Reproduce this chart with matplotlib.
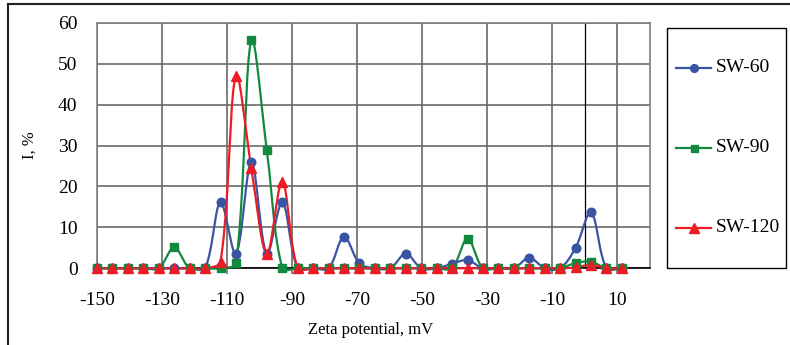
import numpy as np
import matplotlib
matplotlib.use("Agg")
import matplotlib.pyplot as plt
from matplotlib.lines import Line2D
from matplotlib.patches import Rectangle

plt.rcParams['font.family'] = ['Liberation Serif', 'DejaVu Serif']
plt.rcParams['axes.unicode_minus'] = False

# zeta potential bins, mV (35 points, ~4.75 mV apart)
zeta = [-150.0, -145.25, -140.5, -135.75, -131.0, -126.25, -121.5, -116.75,
        -112.0, -107.25, -102.5, -97.75, -93.0, -88.25, -83.5, -78.75,
        -74.0, -69.25, -64.5, -59.75, -55.0, -50.25, -45.5, -40.75,
        -36.0, -31.25, -26.5, -21.75, -17.0, -12.25, -7.5, -2.75,
        2.0, 6.75, 11.5]

sw60 = [0, 0, 0, 0, 0, 0, 0, 0, 16.1, 3.5, 25.9, 3.5, 16.1, 0, 0, 0,
        7.7, 1.2, 0, 0, 3.6, 0, 0, 1.1, 2.0, 0, 0, 0, 2.6, 0, 0, 5.0,
        13.7, 0, 0]
sw90 = [0, 0, 0, 0, 0, 5.1, 0, 0, 0, 1.2, 55.8, 28.9, 0, 0, 0, 0,
        0, 0, 0, 0, 0, 0, 0, 0, 7.2, 0, 0, 0, 0, 0, 0, 1.3,
        1.6, 0, 0]
sw120 = [0, 0, 0, 0, 0, 0, 0, 0, 1.6, 47.1, 24.4, 3.5, 21.2, 0, 0, 0,
         0, 0, 0, 0, 0, 0, 0, 0, 0, 0, 0, 0, 0, 0, 0, 0.2,
         0.9, 0, 0]

names = ['SW-60', 'SW-90', 'SW-120']
colors = ['#3a54a4', '#12893f', '#ec1c24']
markers = ['o', 's', '^']
msizes = [6.2, 5.6, 7.8]

XMIN, XMAX, YMIN, YMAX = -150, 20, 0, 60
AX_W, AX_H = 552.5, 245.6  # axes size in pixels


def smooth(x, y, n=24, f=1 / 3):
    # excel-like smoothed line: bezier segments, tangent lengths split by
    # neighbouring segment lengths measured on screen
    sx = AX_W / (XMAX - XMIN)
    sy = AX_H / (YMAX - YMIN)
    p = np.column_stack([np.asarray(x, float) * sx, np.asarray(y, float) * sy])
    p = np.vstack([p[0], p, p[-1]])
    d = np.hypot(*np.diff(p, axis=0).T)
    t = np.linspace(0, 1, n)[:, None]
    out = []
    for i in range(1, len(p) - 2):
        tan0 = p[i + 1] - p[i - 1]
        tan1 = p[i + 2] - p[i]
        w0 = d[i] / max(d[i - 1] + d[i], 1e-9)
        w1 = d[i] / max(d[i] + d[i + 1], 1e-9)
        c1 = p[i] + tan0 * f * w0
        c2 = p[i + 1] - tan1 * f * w1
        b = (1 - t) ** 3 * p[i] + 3 * (1 - t) ** 2 * t * c1 + 3 * (1 - t) * t ** 2 * c2 + t ** 3 * p[i + 1]
        out.append(b)
    b = np.vstack(out)
    return b[:, 0] / sx, b[:, 1] / sy


fig = plt.figure(figsize=(7.9, 3.45), dpi=100)
ax = fig.add_axes([97 / 790, 76.7 / 345, AX_W / 790, AX_H / 345])

series = [sw60, sw90, sw120]
for vals, c in zip(series, colors):
    lx, ly = smooth(zeta, vals)
    ax.plot(lx, ly, color=c, lw=1.6, zorder=3, clip_on=False)
for vals, c, m, ms in zip(series, colors, markers, msizes):
    ax.plot(zeta, vals, ls='none', marker=m, ms=ms, color=c, mec=c, zorder=4, clip_on=False)

ax.set_xlim(XMIN, XMAX)
ax.set_ylim(YMIN, YMAX)
ax.set_xticks(np.arange(-150, 11, 20))
ax.set_yticks(np.arange(0, 61, 10))
ax.grid(True, color='#6a6a6a', lw=1.2, zorder=1)
ax.set_axisbelow(True)
ax.axvline(0, color='black', lw=0.9, zorder=2)
for s in ['left', 'right', 'top']:
    ax.spines[s].set_color('#808080')
    ax.spines[s].set_linewidth(1.2)
ax.spines['bottom'].set_color('black')
ax.spines['bottom'].set_linewidth(1.2)
ax.tick_params(axis='x', length=4, width=1.2, color='#707070', pad=13, labelsize=14)
ax.tick_params(axis='y', length=0, pad=14, labelsize=14)
ax.set_xlabel('Zeta potential, mV', fontsize=12)
ax.xaxis.set_label_coords(0.5 - (97 + AX_W / 2 - 371) / AX_W, -(330 - 268.3) / AX_H)
ax.xaxis.label.set_va('center')
ax.set_ylabel('I, %', fontsize=12)
ax.yaxis.set_label_coords(-(97 - 30) / AX_W, 0.5 - (145 - 145.5) / AX_H)
ax.yaxis.label.set_va('center')

# legend box drawn on the figure
fig.add_artist(Rectangle((667 / 790, 77 / 345), 119 / 790, 240 / 345,
                         transform=fig.transFigure, fill=False, ec='black', lw=1.0))
for k, (nm, c, m, ms) in enumerate(zip(names, colors, markers, msizes)):
    yy = 1 - (68 + 80 * k) / 345
    fig.add_artist(Line2D([676 / 790, 711 / 790], [yy, yy], transform=fig.transFigure,
                          color=c, lw=1.6))
    fig.add_artist(Line2D([693.5 / 790], [yy], transform=fig.transFigure,
                          color=c, marker=m, ms=ms * 0.9, ls='none'))
    fig.text(716 / 790, yy, nm, fontsize=14, va='center', ha='left')

# outer chart frame (left and top edges visible)
fig.add_artist(Line2D([8 / 790, 8 / 790], [0, 1 - 3.5 / 345], transform=fig.transFigure,
                      color='#222222', lw=1.5))
fig.add_artist(Line2D([8 / 790, 1], [1 - 3.5 / 345, 1 - 3.5 / 345], transform=fig.transFigure,
                      color='#222222', lw=1.5))

fig.savefig('out.png', dpi=100)
